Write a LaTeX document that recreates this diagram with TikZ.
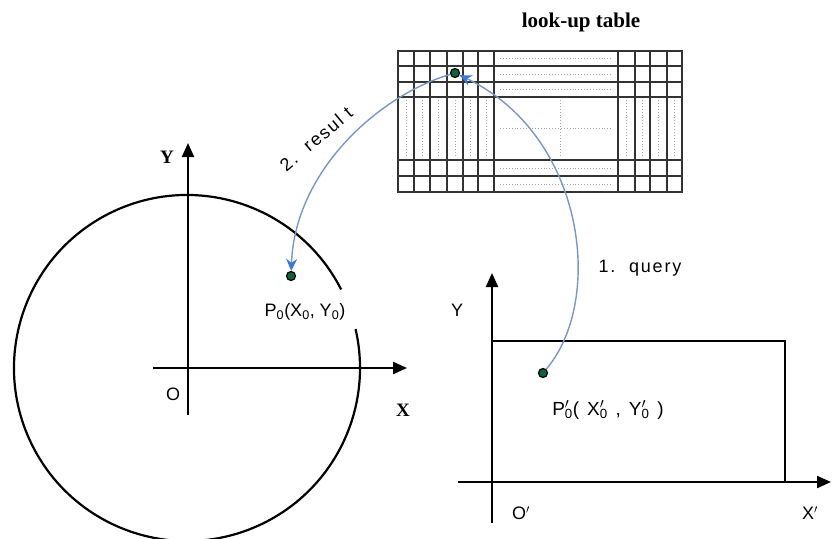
\documentclass[tikz,border=0pt]{standalone}
\usepackage{fontspec}
\setmainfont{Liberation Sans}
\newfontfamily\serifbf{Liberation Serif}
\usetikzlibrary{arrows.meta}
\definecolor{linkblue}{RGB}{120,150,200}
\definecolor{tipblue}{RGB}{60,120,220}
\definecolor{dotgreen}{RGB}{10,100,60}
\newcommand{\sbp}[1]{\rlap{\textsuperscript{$\prime$}}\textsubscript{#1}}
\tikzset{
  axis/.style={line width=2.2pt,-{Triangle[length=14pt,width=12pt]}},
  frame/.style={line width=2.2pt},
  dot/.style={circle,draw=black,fill=dotgreen,line width=1.2pt,minimum size=9pt,inner sep=0pt},
  link/.style={linkblue,line width=1.4pt,-{Stealth[length=12pt,width=11pt,color=tipblue]}},
  lbl/.style={font=\fontsize{18}{20}\selectfont},
  widelbl/.style={font=\fontsize{18}{20}\selectfont\addfontfeature{LetterSpace=10}},
  axlbl/.style={font=\serifbf\bfseries\fontsize{19}{21}\selectfont},
  tabline/.style={black!80,line width=1.1pt},
  fine/.style={gray!70,dotted,line width=0.9pt}
}

\begin{document}
\begin{tikzpicture}[x=1pt,y=-1pt]
  \useasboundingbox (0,0) rectangle (832,538);
  % look-up table
  \node[axlbl,font=\serifbf\bfseries\fontsize{21}{23}\selectfont] (title) at (581,22) {look-up table};
  \draw[tabline] (398,51) rectangle (682,192);
  \foreach \x in {414,430,447,463,478,494,618,635,650,667}
    \draw[tabline] (\x,51) -- (\x,192);
  \foreach \y in {66,82,97,160,176}
    \draw[tabline] (398,\y) -- (682,\y);
  \foreach \y in {58,74,89,168,184}
    \draw[fine] (500,\y) -- (612,\y);
  \foreach \x in {406,422,438,455,470,486,626,642,658,674}
    \draw[fine] (\x,100) -- (\x,157);
  \draw[fine] (500,128) -- (612,128);
  \draw[fine] (560,100) -- (560,157);

  % circle view
  \draw[axis] (188,415) -- (188,143);
  \draw[axis] (153,368) -- (407,368);
  \draw[frame] (187,368) ++(-27:173) arc[start angle=-27,end angle=-373,radius=173];
  \node[axlbl] (ly) at (167,157) {Y};
  \node[lbl] (lo) at (173,394) {O};
  \node[axlbl] (lx) at (403,410) {X};
  \node[lbl] (lp) at (305,312) {P\textsubscript{0}(X\textsubscript{0}, Y\textsubscript{0})};

  % rectangle view
  \draw[axis] (492,523) -- (492,273);
  \draw[axis] (458,482) -- (831,482);
  \draw[frame] (492,341) rectangle (785,482);
  \node[lbl] (ry) at (457,310) {Y};
  \node[lbl] (ro) at (521,513) {O$'$};
  \node[lbl] (rx) at (810,513) {X$'$};
  \node[widelbl,font=\fontsize{19}{21}\selectfont\addfontfeature{LetterSpace=14}] (rp) at (608,410) {P\sbp{0}( X\sbp{0} , Y\sbp{0} )};

  % points and links
  \node[dot] (q) at (455,73) {};
  \node[dot] (p0) at (291,276) {};
  \node[dot] (p0p) at (543,373) {};
  \draw[link] (p0p) .. controls (605,300) and (585,135) .. (q);
  \draw[link] (q) .. controls (380,95) and (295,170) .. (p0);
  \node[widelbl] (lq) at (640,268) {1.\ \ query};
  \node[widelbl,rotate=40] (lres) at (316,139) {2.\ \ resul t};
\end{tikzpicture}
\end{document}
